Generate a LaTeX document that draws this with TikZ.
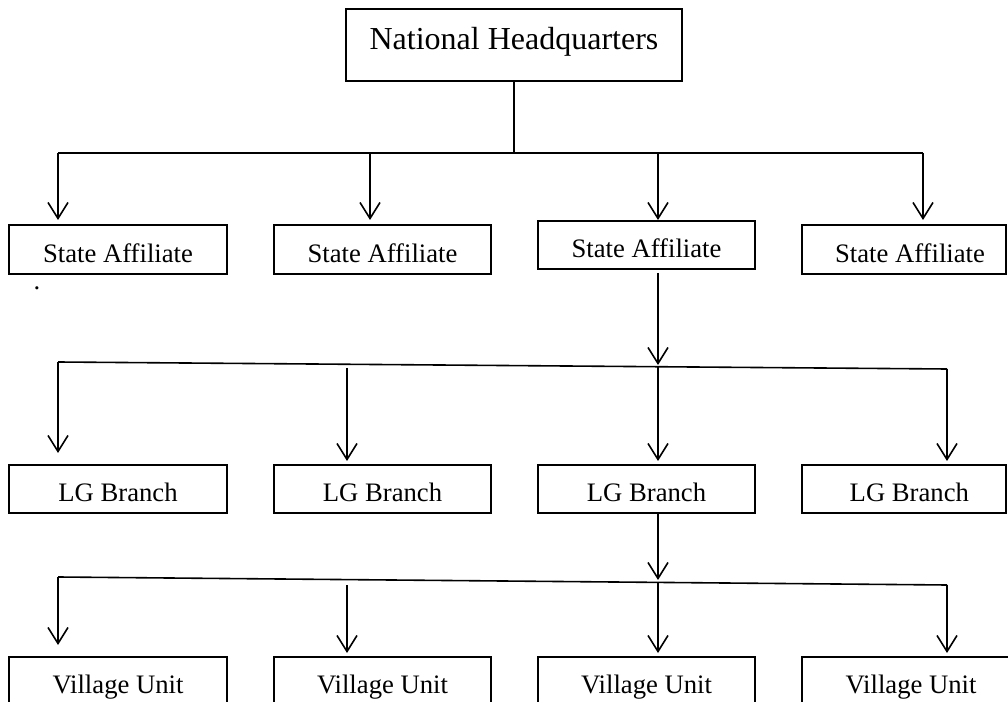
\documentclass[tikz,border=0pt]{standalone}
\usepackage{fontspec}
\setmainfont{Liberation Serif}
\usetikzlibrary{arrows.meta}
\begin{document}
\begin{tikzpicture}[x=0.75pt,y=-0.75pt,
  box/.style={draw, line width=1.4pt, inner sep=0pt, minimum height=36.5pt,
    text height=19pt, text depth=0pt, font=\fontsize{20}{24}\selectfont},
  topbox/.style={draw, line width=1.4pt, inner sep=0pt, minimum width=252pt,
    minimum height=54pt, text height=17pt, text depth=9.5pt,
    font=\fontsize{24}{28}\selectfont},
  conn/.style={line width=1.2pt},
  arr/.style={conn, -{Straight Barb[length=12pt,width=15pt,line width=1.2pt]}}
]
\useasboundingbox (0,0) rectangle (1008,702);
\clip (0,0) rectangle (1008,702);

% boxes
\node[topbox] (nh) at (514,45) {National Headquarters};

\node[box, minimum width=163.5pt] (sa1) at (118,249.5) {State Affiliate};
\node[box, minimum width=162.75pt] (sa2) at (382.5,249.5) {State Affiliate};
\node[box, minimum width=162.75pt, minimum height=36pt] (sa3) at (646.5,245) {State Affiliate};
\node[box, minimum width=153pt] (sa4) at (904,249.5) {\hspace*{9pt}State Affiliate};

\node[box, minimum width=163.5pt, minimum height=36pt] (lg1) at (118,489) {LG Branch};
\node[box, minimum width=162.75pt, minimum height=36pt] (lg2) at (382.5,489) {LG Branch};
\node[box, minimum width=162.75pt, minimum height=36pt] (lg3) at (646.5,489) {LG Branch};
\node[box, minimum width=153pt, minimum height=36pt] (lg4) at (904,489) {\hspace*{8pt}LG Branch};

\node[box, minimum width=163.5pt, minimum height=36pt] (vu1) at (118,681) {Village Unit};
\node[box, minimum width=162.75pt, minimum height=36pt] (vu2) at (382.5,681) {Village Unit};
\node[box, minimum width=162.75pt, minimum height=36pt] (vu3) at (646.5,681) {Village Unit};
\node[box, minimum width=157.5pt, minimum height=36pt] (vu4) at (907,681) {\hspace*{6pt}Village Unit};

\node[font=\fontsize{20}{24}\selectfont, inner sep=0pt, anchor=base] (dot) at (37,289.5) {.};

% level 1 connectors
\coordinate (hm) at (514,153);
\coordinate (a1) at (58,153);
\coordinate (a2) at (370,153);
\coordinate (a3) at (658,153);
\coordinate (a4) at (923,153);
\coordinate (ta1) at (58,220);
\coordinate (ta2) at (370,220);
\coordinate (ta3) at (658,220);
\coordinate (ta4) at (923,220);
\draw[conn] (nh.south) -- (hm);
\draw[conn] (a1) -- (a4);
\draw[arr] (a1) -- (ta1);
\draw[arr] (a2) -- (ta2);
\draw[arr] (a3) -- (ta3);
\draw[arr] (a4) -- (ta4);

% level 2 connectors
\coordinate (s3b) at (658,273);
\coordinate (tb) at (658,365);
\coordinate (b1) at (58,362);
\coordinate (b2) at (347,368);
\coordinate (b3) at (658,366.7);
\coordinate (b4) at (947,369);
\coordinate (tb1) at (58,453);
\coordinate (tb2) at (347,461);
\coordinate (tb3) at (658,461);
\coordinate (tb4) at (947,461);
\draw[arr] (s3b) -- (tb);
\draw[conn] (b1) -- (b4);
\draw[arr] (b1) -- (tb1);
\draw[arr] (b2) -- (tb2);
\draw[arr] (b3) -- (tb3);
\draw[arr] (b4) -- (tb4);

% level 3 connectors
\coordinate (l3b) at (658,513);
\coordinate (tc) at (658,580);
\coordinate (c1) at (58,577);
\coordinate (c2) at (347,585);
\coordinate (c3) at (658,582.4);
\coordinate (c4) at (947,585);
\coordinate (tc1) at (58,645);
\coordinate (tc2) at (347,653);
\coordinate (tc3) at (658,653);
\coordinate (tc4) at (947,653);
\draw[arr] (l3b) -- (tc);
\draw[conn] (c1) -- (c4);
\draw[arr] (c1) -- (tc1);
\draw[arr] (c2) -- (tc2);
\draw[arr] (c3) -- (tc3);
\draw[arr] (c4) -- (tc4);
\end{tikzpicture}
\end{document}
